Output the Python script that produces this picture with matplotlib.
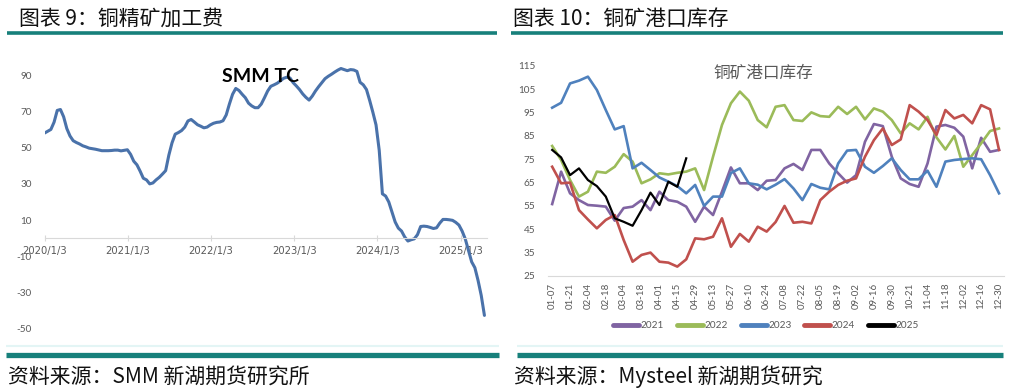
import matplotlib
matplotlib.use('Agg')
import matplotlib.pyplot as plt
from matplotlib.lines import Line2D
import pandas as pd
import numpy as np

# ---------------- data: SMM TC (biweekly from 2020-01-03) ----------------
tc_start = '2020-01-03'
tc_values = [
    58, 59, 60, 64, 70.5, 71, 67, 60.5, 56.4, 53.8,
    52.8, 52, 51, 50.4, 49.7, 49.4, 49.1, 48.7, 48.3, 48.3,
    48.3, 48.4, 48.6, 48.6, 48.2, 48.5, 48.8, 46.3, 42.5, 40.5,
    37, 33.1, 32.2, 30, 30.5, 32.2, 33.6, 35.4, 37.3, 45.8,
    52.6, 57.4, 58.3, 59.4, 61.3, 64.7, 65.5, 64.1, 62.6, 61.8,
    60.9, 61.3, 62.5, 63.4, 63.9, 64.1, 64.8, 68, 74, 79.4,
    82.6, 81.5, 79.4, 77.5, 74.5, 73, 72, 72, 74, 77.5,
    81.2, 83.8, 84.6, 85.5, 86.8, 88.2, 88.8, 88.4, 85.8, 84,
    82, 79.6, 77.7, 76.2, 78.4, 81.2, 83.6, 85.8, 88, 89.3,
    90.4, 91.6, 92.7, 93.6, 93, 92.4, 93, 92.8, 92, 86,
    84.6, 82, 76, 69.5, 62.5, 48.5, 24.5, 23.3, 20, 14.5,
    9, 5.6, 4, 0.7, -1.5, -0.8, -0.3, 2, 6.5, 6.7,
    6.5, 6, 5.4, 5.8, 8.4, 10.4, 10.4, 10.2, 9.9, 8.8,
    7.3, 4, -0.4, -6.8, -13, -16.2, -23.2, -31.5, -42.5,
]
tc_tick_dates = ['2020-01-03', '2021-01-03', '2022-01-03', '2023-01-03', '2024-01-03', '2025-01-03']
tc_tick_labels = ['2020/1/3', '2021/1/3', '2022/1/3', '2023/1/3', '2024/1/3', '2025/1/3']
tc_yticks = [-50, -30, -10, 10, 30, 50, 70, 90]

# ---------------- data: copper ore port inventory ----------------
port_weeks = [
    '01-07', '01-14', '01-21', '01-28', '02-04', '02-11', '02-18', '02-25', '03-04', '03-11',
    '03-18', '03-25', '04-01', '04-08', '04-15', '04-22', '04-29', '05-06', '05-13', '05-20',
    '05-27', '06-03', '06-10', '06-17', '06-24', '07-01', '07-08', '07-15', '07-22', '07-29',
    '08-05', '08-12', '08-19', '08-26', '09-02', '09-09', '09-16', '09-23', '09-30', '10-14',
    '10-21', '10-28', '11-04', '11-11', '11-18', '11-25', '12-02', '12-09', '12-16', '12-23',
    '12-30',
]
inv_2021 = [55.7, 69.6, 60.3, 57.4, 55.3, 55.0, 54.6, 48.6, 54.0, 54.6,
            57.4, 53.1, 61.0, 57.4, 56.7, 54.6, 48.1, 54.6, 51.0, 61.0,
            71.4, 64.6, 64.6, 61.7, 65.7, 66.0, 71.0, 72.9, 70.3, 78.9,
            78.9, 73.1, 68.9, 64.9, 68.1, 82.4, 90.0, 89.1, 76.0, 66.7,
            64.3, 63.1, 73.1, 88.9, 89.6, 88.4, 84.6, 71.0, 84.1, 78.1,
            78.9]
inv_2022 = [80.6, 74.6, 66.0, 58.9, 61.0, 69.6, 69.1, 71.7, 77.1, 73.9,
            64.6, 66.3, 68.9, 68.4, 69.1, 69.6, 71.0, 61.7, 76.0, 89.6,
            98.9, 103.9, 100.0, 91.7, 88.6, 97.4, 98.1, 91.7, 91.3, 95.0,
            93.4, 93.1, 97.4, 94.3, 97.4, 92.0, 96.7, 95.3, 91.7, 86.0,
            90.3, 87.7, 93.1, 84.3, 79.1, 84.9, 71.7, 76.7, 81.7, 87.0,
            88.1]
inv_2023 = [97.0, 99.1, 107.4, 108.6, 110.3, 104.6, 96.0, 87.7, 89.1, 71.0,
            73.4, 70.3, 67.1, 65.3, 63.4, 60.3, 63.9, 54.9, 58.9, 58.9,
            69.0, 71.0, 64.6, 64.0, 62.0, 64.0, 66.4, 62.4, 57.4, 64.3,
            62.7, 62.0, 73.1, 78.6, 78.9, 71.7, 69.1, 72.0, 75.3, 70.3,
            66.3, 66.3, 70.0, 63.1, 73.9, 74.6, 75.0, 75.3, 74.9, 68.1,
            60.3]
inv_2024 = [71.7, 64.6, 64.9, 53.1, 49.1, 45.3, 48.9, 51.0, 40.3, 31.0,
            33.9, 34.9, 31.0, 30.6, 28.9, 32.0, 41.0, 40.6, 41.7, 49.6,
            37.4, 42.9, 39.6, 46.0, 43.9, 48.0, 54.9, 47.7, 48.1, 47.4,
            57.4, 61.0, 63.9, 65.7, 66.7, 76.0, 83.1, 88.1, 81.0, 83.4,
            98.1, 95.3, 91.7, 85.3, 96.0, 92.4, 93.9, 90.3, 98.1, 96.3,
            78.9]
inv_2025 = [78.9, 75.7, 68.1, 71.0, 66.0, 63.4, 58.9, 49.6, 48.1, 46.4,
            53.1, 60.6, 55.3, 65.3, 63.1, 75.3]
series_names = ['2021', '2022', '2023', '2024', '2025']
series_colors = ['#8064A2', '#9BBB59', '#4F81BD', '#C0504D', '#000000']
port_yticks = [25, 35, 45, 55, 65, 75, 85, 95, 105, 115]

# ---------------- figure ----------------
W, H = 1017, 391
fig = plt.figure(figsize=(W / 100, H / 100), dpi=100)
fig.patch.set_facecolor('white')


def fx(x):
    return x / W


def fy(y):
    return 1 - y / H


CJK = ['Noto Sans CJK SC', 'DejaVu Sans']
LAT = ['Lato', 'Noto Sans CJK SC', 'DejaVu Sans']
TEAL = '#17807B'
GRAY = '#595959'

# headers and rules
fig.text(fx(19), fy(19), '图表 9：铜精矿加工费', fontsize=15, family=CJK,
         ha='left', va='center', color='#111111')
fig.text(fx(513), fy(19), '图表 10：铜矿港口库存', fontsize=15, family=CJK,
         ha='left', va='center', color='#111111')
for x0, x1 in [(7, 497), (511, 1003)]:
    fig.add_artist(Line2D([fx(x0), fx(x1)], [fy(33.3)] * 2, color=TEAL, lw=2.6,
                          solid_capstyle='butt'))
for x0, x1 in [(6, 499), (517, 1003)]:
    fig.add_artist(Line2D([fx(x0), fx(x1)], [fy(355)] * 2, color=TEAL, lw=3.8,
                          solid_capstyle='butt'))
    fig.add_artist(Line2D([fx(x0), fx(x1)], [fy(346)] * 2, color='#E3F5F5', lw=1.5,
                          solid_capstyle='butt'))
fig.text(fx(8), fy(377), '资料来源：SMM 新湖期货研究所', fontsize=15, family=CJK,
         ha='left', va='center', color='#111111')
fig.text(fx(514), fy(377), '资料来源：Mysteel 新湖期货研究', fontsize=15, family=CJK,
         ha='left', va='center', color='#111111')

# ---------------- left chart ----------------
ax1 = fig.add_axes([fx(44.5), fy(329), (486.7 - 44.5) / W, (329 - 56.9) / H])
tc_dates = pd.date_range(tc_start, periods=len(tc_values), freq='14D')
ax1.plot(tc_dates, tc_values, color='#4A72AA', lw=2.2, solid_joinstyle='round',
         solid_capstyle='round')
ax1.set_xlim(pd.Timestamp('2020-01-03'), pd.Timestamp('2025-04-28'))
ax1.set_ylim(-50, 100)
ax1.set_yticks(tc_yticks)
ax1.set_yticklabels([str(v) for v in tc_yticks], family=LAT)
ax1.set_xticks(pd.to_datetime(tc_tick_dates))
ax1.set_xticklabels(tc_tick_labels, family=LAT)
for s in ['top', 'right', 'left']:
    ax1.spines[s].set_visible(False)
ax1.spines['bottom'].set_position(('data', 0))
ax1.spines['bottom'].set_color('#D9D9D9')
ax1.tick_params(axis='x', direction='inout', length=5, color='#D9D9D9',
                labelcolor=GRAY, labelsize=7.2, pad=3)
ax1.tick_params(axis='y', length=0, labelcolor=GRAY, labelsize=7.2, pad=9)
ax1.patch.set_alpha(0)
fig.text(fx(260), fy(77), 'SMM TC', fontsize=14, weight='bold', family=LAT,
         ha='center', va='center', color='black')

# ---------------- right chart ----------------
ax2 = fig.add_axes([fx(547.7), fy(275.7), (1003.5 - 547.7) / W, 210 / H])
x = np.arange(len(port_weeks))
all_series = [inv_2021, inv_2022, inv_2023, inv_2024, inv_2025]
handles = []
for vals, name, col in zip(all_series, series_names, series_colors):
    lw = 1.6 if name == '2025' else 1.9
    ax2.plot(x[:len(vals)], vals, color=col, lw=lw, solid_joinstyle='round')
    handles.append(Line2D([], [], color=col, lw=3.5, solid_capstyle='round'))
ax2.set_xlim(-0.5, len(port_weeks) - 0.5)
ax2.set_ylim(25, 115)
ax2.set_yticks(port_yticks)
ax2.set_yticklabels([str(v) for v in port_yticks], family=LAT)
ax2.set_xticks(x[::2])
ax2.set_xticklabels(port_weeks[::2], rotation=90, family=LAT)
for s in ['top', 'right', 'left']:
    ax2.spines[s].set_visible(False)
ax2.spines['bottom'].set_color('#D9D9D9')
ax2.tick_params(axis='x', length=0, labelcolor=GRAY, labelsize=7, pad=5)
ax2.tick_params(axis='y', length=0, labelcolor=GRAY, labelsize=7.2, pad=9)
ax2.patch.set_alpha(0)
fig.text(fx(763), fy(72.7), '铜矿港口库存', fontsize=12, family=CJK,
         ha='center', va='center', color=GRAY)

fig.legend(handles, series_names, loc='center', bbox_to_anchor=(fx(766), fy(325.7)),
           ncol=5, frameon=False, handlelength=2.6, handletextpad=0.15,
           columnspacing=1.3, prop={'family': LAT, 'size': 7.2}, labelcolor=GRAY)

fig.savefig('out.png', dpi=100, facecolor='white')
